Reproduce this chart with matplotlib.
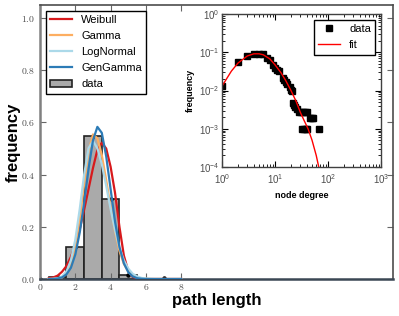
import numpy as np
import matplotlib
matplotlib.use("Agg")
import matplotlib.pyplot as plt
from matplotlib.ticker import FixedLocator, FuncFormatter, LogLocator

plt.rcParams.update({
    'font.family': ['Liberation Sans', 'DejaVu Sans'],
    'mathtext.fontset': 'cm',
    'xtick.direction': 'in',
    'ytick.direction': 'in',
})

# ---- path length histogram (bins of width 1 centred on integers) ----
bin_centers = [1, 2, 3, 4, 5]
bin_heights = [0.009, 0.121, 0.549, 0.307, 0.017]
dot_x = [0, 1, 2, 3, 4, 5, 7]
dot_y = [0.001, 0.009, 0.121, 0.549, 0.307, 0.017, 0.002]

# fitted curves
curve_x = [0.5, 0.75, 1.0, 1.25, 1.5, 1.75, 2.0, 2.25, 2.5, 2.75, 3.0, 3.25,
           3.5, 3.75, 4.0, 4.25, 4.5, 4.75, 5.0, 5.25, 5.5, 5.75, 6.0, 6.25,
           6.5, 7.0, 8.0]
weibull = [0.003, 0.006, 0.013, 0.028, 0.05, 0.085, 0.13, 0.19, 0.265, 0.345,
           0.425, 0.495, 0.522, 0.5, 0.43, 0.33, 0.2, 0.09, 0.03, 0.008,
           0.002, 0.0, 0.0, 0.0, 0.0, 0.0, 0.0]
gamma = [0.0, 0.0, 0.002, 0.006, 0.02, 0.053, 0.12, 0.229, 0.365, 0.491,
         0.554, 0.539, 0.475, 0.379, 0.275, 0.181, 0.108, 0.058, 0.029,
         0.013, 0.005, 0.002, 0.001, 0.0, 0.0, 0.0, 0.0]
lognormal = [0.0, 0.001, 0.003, 0.01, 0.029, 0.072, 0.151, 0.268, 0.4, 0.501,
             0.529, 0.501, 0.44, 0.357, 0.268, 0.187, 0.12, 0.072, 0.04,
             0.02, 0.01, 0.004, 0.002, 0.001, 0.0, 0.0, 0.0]
gengamma = [0.0, 0.0, 0.002, 0.006, 0.018, 0.043, 0.094, 0.178, 0.293, 0.422,
            0.531, 0.583, 0.56, 0.47, 0.344, 0.22, 0.123, 0.06, 0.026, 0.01,
            0.003, 0.001, 0.0, 0.0, 0.0, 0.0, 0.0]

# ---- node degree distribution (inset) ----
deg = [1, 2, 3, 4, 5, 6, 7, 8, 9, 10, 11, 12, 14, 15, 16, 17, 19, 20, 21,
       22, 23, 24, 26, 28, 31, 34, 37, 41, 45, 49, 52, 32, 35, 38, 41, 69]
deg_freq = [0.013, 0.055, 0.078, 0.088, 0.09, 0.088, 0.072, 0.062, 0.046,
            0.038, 0.035, 0.032, 0.021, 0.019, 0.017, 0.015, 0.012, 0.0105,
            0.0095, 0.0048, 0.0042, 0.0038, 0.0032, 0.0028, 0.0028, 0.0028,
            0.0028, 0.0028, 0.0019, 0.0019, 0.0019, 0.001, 0.001, 0.001,
            0.001, 0.001]
fit_x = [1, 1.5, 2, 3, 4, 5, 6, 8, 10, 13, 16, 20, 25, 30, 35, 42, 50, 60, 68]
fit_y = [0.013, 0.032, 0.052, 0.08, 0.091, 0.091, 0.086, 0.067, 0.047, 0.029,
         0.018, 0.010, 0.0052, 0.0027, 0.0017, 0.001, 0.0005, 0.0002, 0.00009]

colors = {'Weibull': '#d7191c', 'Gamma': '#fdae61',
          'LogNormal': '#abd9e9', 'GenGamma': '#2c7bb6'}

fig = plt.figure(figsize=(3.99, 3.16), dpi=100)
ax = fig.add_axes([0.1003, 0.1171, 0.8847, 0.8671])

ax.bar(bin_centers, bin_heights, width=1.0, color='#aaaaaa',
       edgecolor='#222222', linewidth=1.2, label='data', zorder=1)
ax.plot(dot_x, dot_y, 'o', color='black', ms=2.2, zorder=2)
ax.plot(curve_x, weibull, color=colors['Weibull'], lw=1.6, label='Weibull', zorder=3)
ax.plot(curve_x, gamma, color=colors['Gamma'], lw=1.6, label='Gamma', zorder=3)
ax.plot(curve_x, lognormal, color=colors['LogNormal'], lw=1.6, label='LogNormal', zorder=3)
ax.plot(curve_x, gengamma, color=colors['GenGamma'], lw=1.6, label='GenGamma', zorder=3)

ax.set_xlim(0, 20)
ax.set_ylim(0, 1.05)
ax.xaxis.set_major_locator(FixedLocator([0, 2, 4, 6, 8]))
ax.yaxis.set_major_locator(FixedLocator([0, 0.2, 0.4, 0.6, 0.8, 1.0]))
ax.xaxis.set_major_formatter(FuncFormatter(lambda v, p: r'$%d$' % v))
ax.yaxis.set_major_formatter(FuncFormatter(lambda v, p: r'$%.1f$' % v))
ax.tick_params(which='both', top=True, right=True, labelsize=7,
               labelcolor='0.3', color='0.4', length=4)
ax.tick_params(axis='x', pad=2)
for s in ax.spines.values():
    s.set_color('0.3')
    s.set_linewidth(1.2)
ax.spines['left'].set_color('0.5')
ax.spines['left'].set_linewidth(1.8)
ax.spines['bottom'].set_color('#3b4754')
ax.spines['bottom'].set_linewidth(1.8)

ax.set_xlabel('path length', fontsize=12, fontweight='bold')
ax.set_ylabel('frequency', fontsize=12, fontweight='bold', labelpad=0)
ax.xaxis.set_label_coords(0.5, -0.052)
ax.xaxis.label.set_va('top')

handles, labels = ax.get_legend_handles_labels()
order = ['Weibull', 'Gamma', 'LogNormal', 'GenGamma', 'data']
hl = dict(zip(labels, handles))
leg = ax.legend([hl[k] for k in order], order, loc='upper left', fontsize=8,
                labelspacing=0.55, handlelength=2.0, fancybox=False,
                framealpha=1, edgecolor='black', borderaxespad=0.5)
leg.get_frame().set_linewidth(1.0)

# ---- inset ----
ins = fig.add_axes([0.5564, 0.4715, 0.3985, 0.4842])
ins.plot(deg, deg_freq, 's', color='black', ms=5, label='data')
ins.plot(fit_x, fit_y, '-', color='red', lw=1.0, label='fit')
ins.set_xscale('log')
ins.set_yscale('log')
ins.set_xlim(1, 1000)
ins.set_ylim(1e-4, 1)
ins.xaxis.set_major_locator(LogLocator(base=10, numticks=10))
ins.yaxis.set_major_locator(LogLocator(base=10, numticks=10))
ins.tick_params(which='both', top=True, right=True, labelsize=7,
                labelcolor='0.3', pad=2)
ins.tick_params(axis='x', which='both', pad=4)
ins.tick_params(which='major', length=4)
ins.tick_params(which='minor', length=2)
ins.set_xlabel('node degree', fontsize=6.5, fontweight='bold', labelpad=3)
ins.set_ylabel('frequency', fontsize=6.5, fontweight='bold', labelpad=3)
for s in ins.spines.values():
    s.set_color('0.25')
    s.set_linewidth(1.0)
ileg = ins.legend(loc='upper right', fontsize=8, numpoints=1,
                  labelspacing=0.55, handlelength=2.0, fancybox=False,
                  framealpha=1, edgecolor='black', borderaxespad=0.5)
ileg.get_frame().set_linewidth(1.0)

fig.savefig('out.png', dpi=100)
